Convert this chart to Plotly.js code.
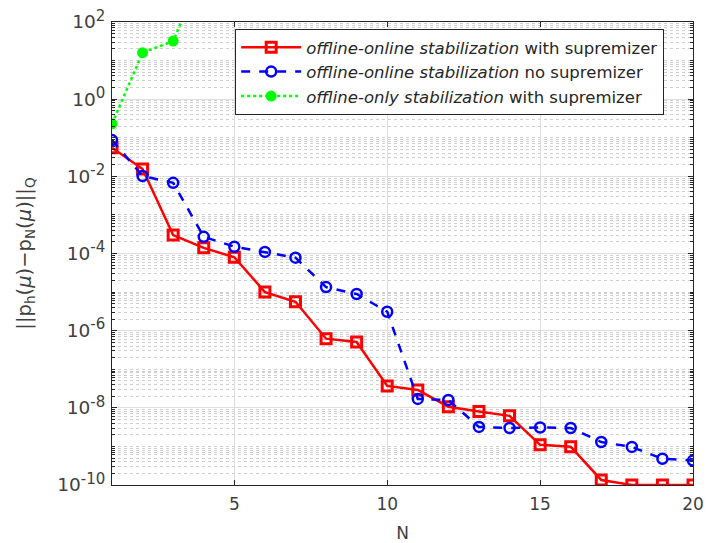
<!DOCTYPE html>
<html>
<head>
<meta charset="utf-8">
<script src="https://cdn.plot.ly/plotly-3.0.1.min.js"></script>
<style>html,body{margin:0;padding:0;background:#fff;}#chart{width:708px;height:543px;}</style>
</head>
<body>
<div id="chart"></div>
<script>
const N = [1,2,3,4,5,6,7,8,9,10,11,12,13,14,15,16,17,18,19,20];
const offOnSup = [0.055,0.0155,3.0e-4,1.4e-4,8.0e-5,1.0e-5,5.6e-6,6.2e-7,5.1e-7,3.7e-8,2.9e-8,1.07e-8,8.0e-9,6.2e-9,1.1e-9,9.8e-10,1.35e-10,1.0e-10,1.0e-10,1.0e-10];
const offOnNoSup = [0.087,0.0102,6.8e-3,2.7e-4,1.5e-4,1.1e-4,7.8e-5,1.35e-5,8.9e-6,3.1e-6,1.7e-8,1.6e-8,3.2e-9,3.0e-9,3.1e-9,3.0e-9,1.3e-9,9.7e-10,4.8e-10,4.3e-10];
const Ngreen = [1,2,3,4];
const offOnlySup = [0.23,16,32,2500];
const yTickVals = [1e-10,1e-8,1e-6,1e-4,1e-2,1,1e2];
const yTickExp = ['-10','-8','-6','-4','-2','0','2'];
const xTickVals = [5,10,15,20];
const names = [
  '<i>offline-online stabilization</i> with supremizer',
  '<i>offline-online stabilization</i> no supremizer',
  '<i>offline-only stabilization</i> with supremizer'
];
const yTickText = yTickExp.map(e => '10<sup><span style="font-size:15px">' + e + '</span></sup>');

const traces = [
  {x:N, y:offOnSup, name:names[0], mode:'lines+markers', cliponaxis:true,
   line:{color:'#ff0000', width:2.5},
   marker:{symbol:'square-open', size:10, color:'#ff0000', line:{width:3, color:'#ff0000'}}},
  {x:N, y:offOnNoSup, name:names[1], mode:'lines+markers', cliponaxis:true,
   line:{color:'#0000ff', width:2.5, dash:'dash'},
   marker:{symbol:'circle-open', size:10, color:'#0000ff', line:{width:2.5, color:'#0000ff'}}},
  {x:Ngreen, y:offOnlySup, name:names[2], mode:'lines+markers', cliponaxis:true,
   line:{color:'#00ff00', width:2.5, dash:'dot'},
   marker:{symbol:'circle', size:11, color:'#00ff00'}}
];

const axisCol = '#262626';
const layout = {
  width:708, height:543,
  margin:{l:112, r:15, t:22, b:58},
  paper_bgcolor:'#fff', plot_bgcolor:'#fff',
  font:{family:'DejaVu Sans, sans-serif', size:16, color:'#404040'},
  showlegend:true,
  legend:{x:0.212, y:0.985, xanchor:'left', yanchor:'top', bgcolor:'#fff',
    bordercolor:axisCol, borderwidth:1, font:{size:16.5, color:'#262626'},
    tracegroupgap:0, itemwidth:60},
  xaxis:{range:[1,20], tickmode:'array', tickvals:xTickVals, ticks:'inside', ticklen:5,
    tickcolor:axisCol, showline:true, linecolor:axisCol, linewidth:1, mirror:'ticks',
    showgrid:true, gridcolor:'#dedede', gridwidth:1, zeroline:false,
    tickfont:{size:17}, ticklabelstandoff:4,
    title:{text:'N', font:{size:17, color:'#404040'}, standoff:14}},
  yaxis:{type:'log', range:[-10,2], tickmode:'array', tickvals:yTickVals, ticktext:yTickText,
    ticks:'inside', ticklen:5, tickcolor:axisCol, showline:true, linecolor:axisCol, linewidth:1,
    mirror:'ticks', showgrid:true, gridcolor:'#dedede', gridwidth:1, zeroline:false,
    tickfont:{size:18.5}, ticklabelstandoff:2,
    minor:{dtick:'D1', ticks:'inside', ticklen:3, tickcolor:axisCol, showgrid:true,
      gridcolor:'#cfcfcf', griddash:'dot', gridwidth:1},
    title:{text:'||p<sub>h</sub>(<i>μ</i>)−p<sub>N</sub>(<i>μ</i>)||<sub>Q</sub>', font:{size:19.5, color:'#404040'}, standoff:20}}
};

Plotly.newPlot('chart', traces, layout, {displayModeBar:false, staticPlot:true});
</script>
</body>
</html>
